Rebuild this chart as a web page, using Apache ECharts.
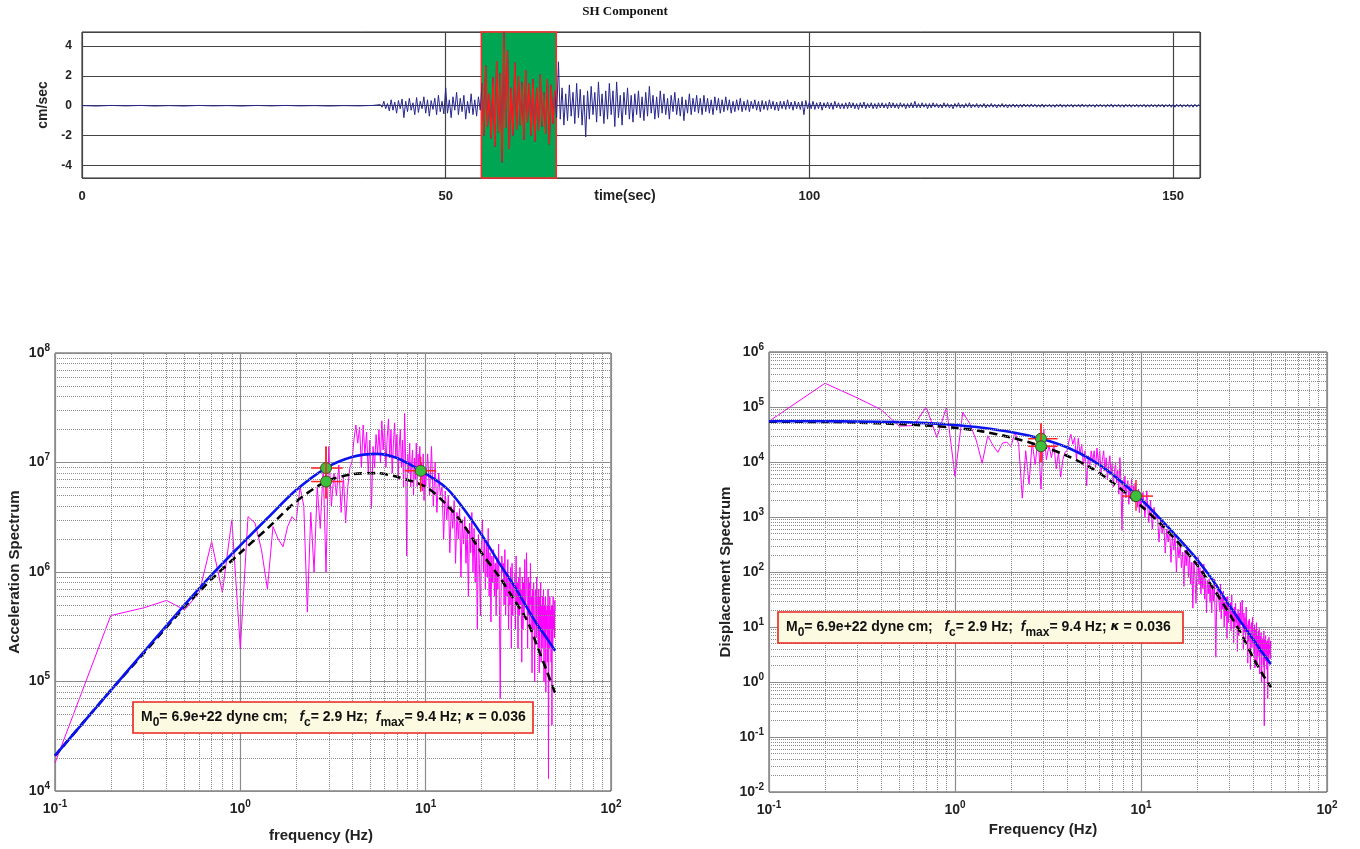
<!DOCTYPE html>
<html lang="en">
<head>
<meta charset="utf-8"/>
<title>SH Component - source spectra</title>
<script src="https://cdn.jsdelivr.net/npm/echarts@6/dist/echarts.min.js"></script>
<style>
  html, body { margin: 0; padding: 0; background: #fff; }
  #main { width: 1360px; height: 849px; }
</style>
</head>
<body>
<div id="main"></div>
<script>
// ---- seismogram (cm/sec) ----
// quiet pre-event part, sampled every 2 s from 0 s
const quietTime = [0, 2, 4, 6, 8, 10, 12, 14, 16, 18, 20, 22, 24, 26, 28, 30, 32, 34, 36, 38];
const quietVel = [0.01, -0.02, 0.02, -0.01, 0.02, -0.02, 0.01, -0.02, 0.02, -0.01,
                  0.01, -0.02, 0.02, -0.01, 0.02, -0.01, 0.01, -0.02, 0.01, -0.01];
// main part, sampled every 0.25 s from 40 s
const mainStart = 40;
const mainStep = 0.25;
const mainVel = [
  0.02, -0.03, 0.05, -0.04, 0.08, -0.1, 0.3, -0.2, 0.15, -0.35, 0.4, -0.3, 0.25, -0.5, 0.35, -0.2, 0.45, -0.8, 0.3, -0.4,
  0.5, -0.3, 0.2, -0.6, 0.55, -0.45, 0.3, -0.2, 0.6, -0.5, 0.4, -0.7, 0.35, -0.25, 0.5, -0.6, 0.7, -0.4, 0.3, -0.55,
  1.2, -0.5, 0.4, -0.8, 0.6, -0.3, 0.9, -0.6, 0.5, -0.4, 0.7, -0.9, 0.3, -0.5, 0.8, -0.6, 0.4, -0.7, 0.6, -0.3,
  1.5, -2.0, 2.7, -1.4, 0.8, -2.2, 1.9, -2.75, 3.0, -1.8, 2.2, -3.8, 4.9, -1.5, 3.7, -2.9, 1.2, -2.0, 2.9, -1.6,
  2.0, -1.3, 1.6, -2.3, 2.4, -1.1, 1.5, -2.0, 1.8, -2.4, 1.2, -1.7, 2.1, -1.4, 0.9, -1.9, 1.8, -2.6, 1.4, -1.2,
  1.0, -0.8, 2.95, -0.9, 1.2, -1.3, 0.8, -1.0, 1.4, -0.7, 0.9, -1.2, 1.5, -0.8, 1.1, -1.3, 0.7, -2.1, 1.0, -0.9,
  1.3, -0.6, 0.9, -1.1, 1.6, -0.7, 0.8, -1.2, 1.0, -0.9, 1.5, -0.6, 1.0, -1.4, 1.6, -0.8, 0.7, -1.3, 0.9, -0.6,
  1.2, -0.9, 0.7, -1.1, 0.8, -0.6, 1.0, -0.8, 0.6, -1.0, 0.9, -0.7, 1.3, -0.5, 0.7, -0.9, 0.6, -0.8, 1.0, -0.5,
  0.8, -0.6, 0.5, -0.9, 0.7, -0.4, 0.9, -0.6, 0.5, -0.7, 0.6, -1.0, 0.4, -0.5, 0.8, -0.6, 0.5, -0.4, 0.7, -0.5,
  0.5, -0.6, 0.7, -0.4, 0.5, -0.5, 0.4, -0.6, 0.6, -0.3, 0.5, -0.5, 0.4, -0.4, 0.6, -0.3, 0.4, -0.5, 0.3, -0.4,
  0.4, -0.3, 0.5, -0.4, 0.3, -0.3, 0.4, -0.4, 0.3, -0.2, 0.4, -0.3, 0.3, -0.4, 0.35, -0.25, 0.3, -0.3, 0.4, -0.2,
  0.3, -0.3, 0.25, -0.35, 0.3, -0.2, 0.3, -0.25, 0.4, -0.2, 0.25, -0.3, 0.3, -0.2, 0.25, -0.25, 0.3, -0.6, 0.35, -0.2,
  0.25, -0.2, 0.3, -0.25, 0.2, -0.2, 0.25, -0.3, 0.2, -0.15, 0.25, -0.2, 0.2, -0.25, 0.3, -0.15, 0.2, -0.2, 0.15, -0.2,
  0.2, -0.2, 0.25, -0.15, 0.2, -0.2, 0.15, -0.25, 0.2, -0.15, 0.25, -0.2, 0.15, -0.15, 0.2, -0.2, 0.15, -0.2, 0.2, -0.15,
  0.2, -0.15, 0.15, -0.2, 0.25, -0.15, 0.2, -0.15, 0.15, -0.2, 0.2, -0.1, 0.15, -0.2, 0.15, -0.15, 0.2, -0.15, 0.3, -0.15,
  0.15, -0.15, 0.2, -0.1, 0.15, -0.2, 0.15, -0.15, 0.2, -0.1, 0.15, -0.15, 0.1, -0.15, 0.2, -0.1, 0.15, -0.15, 0.1, -0.2,
  0.15, -0.1, 0.2, -0.15, 0.1, -0.15, 0.15, -0.1, 0.2, -0.15, 0.1, -0.1, 0.15, -0.15, 0.1, -0.1, 0.15, -0.15, 0.1, -0.1,
  0.15, -0.1, 0.1, -0.15, 0.1, -0.1, 0.15, -0.1, 0.1, -0.15, 0.1, -0.1, 0.12, -0.1, 0.1, -0.12, 0.1, -0.1, 0.12, -0.08,
  0.1, -0.1, 0.12, -0.08, 0.1, -0.1, 0.08, -0.1, 0.12, -0.1, 0.08, -0.08, 0.1, -0.1, 0.08, -0.1, 0.1, -0.08, 0.12, -0.1,
  0.08, -0.1, 0.1, -0.08, 0.1, -0.1, 0.08, -0.08, 0.1, -0.1, 0.12, -0.08, 0.08, -0.1, 0.1, -0.08, 0.08, -0.1, 0.1, -0.08,
  0.1, -0.08, 0.08, -0.1, 0.1, -0.08, 0.12, -0.1, 0.08, -0.08, 0.1, -0.1, 0.08, -0.1, 0.1, -0.08, 0.1, -0.1, 0.08, -0.08,
  0.1, -0.1, 0.08, -0.08, 0.1, -0.1, 0.08, -0.1, 0.1, -0.08, 0.08, -0.1, 0.1, -0.08, 0.1, -0.1, 0.08, -0.08, 0.1, -0.1,
  0.08, -0.1, 0.1, -0.08, 0.1, -0.1, 0.08, -0.08, 0.1, -0.1, 0.08, -0.1, 0.1, -0.08, 0.08, -0.05
];
const windowStart = 54.9;   // selected S window (s)
const windowEnd = 65.2;

// ---- spectra ----
// low band: 0.1 .. 10.0 Hz every 0.1 Hz ; high band: 10.25 .. 50 Hz every 0.25 Hz
const accLow = [
  1.8e4, 4.0e5, 4.7e5, 5.5e5, 4.5e5, 6.5e5, 1.9e6, 6.5e5, 3.0e6, 2.0e5,
  3.2e6, 2.8e6, 1.6e6, 7.0e5, 2.6e6, 2.0e6, 1.7e6, 2.6e6, 3.2e6, 2.9e6,
  6.0e6, 4.0e6, 4.3e5, 3.5e6, 1.0e6, 6.0e6, 2.5e6, 9.0e6, 1.0e6, 1.4e7,
  4.0e6, 8.0e6, 5.0e6, 9.5e6, 3.5e6, 7.5e6, 2.8e6, 6.0e6, 9.0e6, 1.0e7,
  1.6e7, 2.2e7, 1.5e7, 2.1e7, 9.0e6, 2.2e7, 1.2e7, 1.9e7, 8.0e6, 1.6e7,
  3.8e6, 1.4e7, 9.0e6, 1.8e7, 1.2e7, 2.0e7, 1.0e7, 2.4e7, 1.3e7, 2.2e7,
  9.0e6, 1.7e7, 2.5e7, 1.1e7, 2.0e7, 8.0e6, 1.5e7, 2.3e7, 1.1e7, 1.8e7,
  7.0e6, 1.4e7, 2.0e7, 9.0e6, 1.6e7, 6.0e6, 2.8e7, 1.0e7, 1.4e6, 1.2e7,
  8.0e6, 1.5e7, 6.0e6, 1.0e7, 1.3e7, 5.0e6, 1.1e7, 7.0e6, 1.5e7, 6.0e6,
  1.2e7, 8.5e6, 1.4e7, 7.0e6, 1.0e7, 5.5e6, 1.2e7, 4.5e6, 9.0e6, 6.0e6
];
const accHigh = [
  1.2e7, 5e6, 1.4e7, 4e6,   1.0e7, 3.5e6, 8e6, 5e6,   6e6, 2e6, 5.5e6, 3e6,   5e6, 1.5e6, 4e6, 2.5e6,
  4.5e6, 1.2e6, 3.5e6, 2e6, 3.8e6, 9e5, 3e6, 1.8e6, 3.2e6, 1.2e6, 2.5e6, 6e5, 2.8e6, 1.5e6, 3.5e6, 1e6,
  2.5e6, 8e5, 2e6, 3e5,     2.2e6, 1.2e6, 4e5, 1.8e6, 3e6, 1e6, 2e6, 7e5,   1.8e6, 9e5, 2.5e6, 6e5,
  1.5e6, 3.5e5, 1.4e6, 8e5, 1.6e6, 6e5, 1.2e6, 4e5, 1.3e6, 7e5, 1.8e6, 5e5, 7e4, 6e5, 1.4e6, 1e6,
  1.2e6, 5e5, 1.6e6, 4e5,   1.0e6, 6e5, 1.3e6, 3e5, 9e5, 5e5, 1.1e6, 2e5,   1.2e6, 4e5, 8e5, 6e5,
  1.0e6, 3e5, 1.4e6, 5e5,   8e5, 2e5, 9e5, 4e5,     1.1e6, 5e5, 7e5, 1.5e5, 9e5, 3e5, 8e5, 4e5,
  1.3e6, 5e5, 6e5, 1.5e6,   7e5, 2e5, 9e5, 4e5,     8e5, 3e5, 1.2e6, 5e5,   6e5, 1.2e5, 7e5, 3e5,
  8e5, 4e5, 1e5, 6e5,       7e5, 2.5e5, 9e5, 3e5,   6e5, 2e5, 7e5, 1.2e5,   6e5, 3e5, 8e5, 1.5e5,
  5e5, 2e5, 6e5, 2.5e5,     7e5, 1e5, 5e5, 2.5e5,   6e5, 8e4, 4.5e5, 3e5,   5e5, 1.5e5, 7e5, 1.3e4,
  5e5, 2e5, 6e5, 3e5,       4.5e5, 1.5e5, 5e5, 4e4, 5e5, 2e5, 6e5, 3e5,     4.5e5, 2.5e5, 5.5e5, 4.5e5
];
const dispLow = [
  5.5e4, 2.7e5, 1.45e5, 9.0e4, 4.5e4, 4.6e4, 1.0e5, 2.8e4, 1.0e5, 5.5e3,
  8.0e4, 5.0e4, 2.5e4, 9.5e3, 3.0e4, 2.0e4, 1.5e4, 2.2e4, 2.3e4, 1.9e4,
  3.5e4, 2.1e4, 2.2e3, 1.6e4, 4.0e3, 2.3e4, 8.8e3, 3.0e4, 3.2e3, 4.0e4,
  1.1e4, 2.0e4, 1.2e4, 2.1e4, 7.5e3, 1.5e4, 5.3e3, 1.1e4, 1.5e4, 1.6e4,
  2.4e4, 3.2e4, 2.1e4, 2.8e4, 1.1e4, 2.7e4, 1.4e4, 2.1e4, 8.5e3, 1.6e4,
  3.7e3, 1.3e4, 8.2e3, 1.6e4, 1.0e4, 1.6e4, 7.8e3, 1.8e4, 9.5e3, 1.6e4,
  6.1e3, 1.1e4, 1.6e4, 6.8e3, 1.2e4, 4.7e3, 8.5e3, 1.3e4, 5.9e3, 9.3e3,
  3.5e3, 6.8e3, 9.5e3, 4.2e3, 7.2e3, 2.6e3, 1.2e4, 4.2e3, 5.7e2, 4.7e3,
  3.1e3, 5.6e3, 2.2e3, 3.6e3, 4.6e3, 1.7e3, 3.7e3, 2.3e3, 4.8e3, 1.9e3,
  3.7e3, 2.5e3, 4.1e3, 2.0e3, 2.8e3, 1.5e3, 3.2e3, 1.2e3, 2.3e3, 1.5e3
];
const dispHigh = [
  2.8e3, 1.0e3, 3.0e3, 8e2,  2.0e3, 6e2, 1.5e3, 9e2,  1.1e3, 3.5e2, 9e2, 5e2,  8e2, 2.2e2, 6e2, 3.5e2,
  6e2, 1.5e2, 4.5e2, 2.5e2,  4.5e2, 1e2, 3.3e2, 1.8e2, 3.2e2, 1.2e2, 2.3e2, 55, 2.5e2, 1.3e2, 3e2, 80,
  1.9e2, 60, 1.5e2, 22,      1.5e2, 80, 27, 1.2e2,    1.9e2, 60, 1.2e2, 40,   1.0e2, 50, 1.4e2, 32,
  75, 18, 70, 40,            75, 28, 55, 18,          55, 30, 75, 20,         2.8, 24, 55, 45,
  45, 19, 60, 14,            35, 21, 45, 10,          29, 16, 35, 6.2,        36, 12, 24, 17,
  28, 8.5, 38, 13,           21, 5.2, 23, 10,         27, 12, 17, 3.6,        21, 7, 18, 9,
  28, 11, 13, 31,            14, 4, 18, 8,            15, 5.8, 23, 9.5,       11, 2.2, 13, 5.5,
  14, 7, 1.7, 10,            12, 4.2, 15, 5,          9.5, 3.2, 11, 1.8,      9, 4.5, 12, 2.2,
  7, 2.8, 8.5, 3.5,          9.5, 1.4, 6.8, 3.3,      8, 1.0, 6, 3.8,         6.2, 1.9, 8.5, 0.16,
  6, 2.4, 7, 3.5,            5.2, 1.7, 5.7, 0.5,      5.5, 2.2, 6.5, 3.2,     4.7, 2.6, 5.6, 4.5
];

// fitted source models read at these frequencies (Hz)
const modelFreq = [0.1, 0.2, 0.3, 0.5, 0.7, 1, 1.4, 2, 2.9, 4, 5.4, 7, 10, 13, 16, 20, 25, 30, 35, 40, 45, 50];
const accBlue = [2.1e4, 8.3e4, 1.85e5, 5.0e5, 9.4e5, 1.75e6, 3.1e6, 5.6e6, 8.9e6, 1.12e7, 1.2e7, 1.1e7,
                 7.9e6, 5.8e6, 3.8e6, 2.2e6, 1.2e6, 7.5e5, 4.8e5, 3.3e5, 2.5e5, 1.9e5];
const accDash = [2.1e4, 8.3e4, 1.8e5, 4.8e5, 8.6e5, 1.5e6, 2.5e6, 4.4e6, 6.7e6, 7.8e6, 8.0e6, 7.4e6,
                 6.0e6, 4.1e6, 2.7e6, 1.5e6, 9.0e5, 5.6e5, 3.7e5, 2.1e5, 1.25e5, 7.8e4];
const dispBlue = [5.5e4, 5.5e4, 5.45e4, 5.3e4, 5.1e4, 4.7e4, 4.2e4, 3.5e4, 2.65e4, 1.85e4, 1.1e4, 6.0e3,
                  2.1e3, 8.5e2, 4.0e2, 1.7e2, 62, 24, 11.4, 6.0, 3.4, 2.1];
const dispDash = [5.4e4, 5.35e4, 5.2e4, 4.9e4, 4.6e4, 4.2e4, 3.6e4, 2.8e4, 1.95e4, 1.3e4, 7.8e3, 4.3e3,
                  1.6e3, 7.0e2, 3.3e2, 1.35e2, 45, 17, 7.0, 2.8, 1.4, 0.8];

// picked points with error bars: [f, amp, fLow, fHigh, ampLow, ampHigh]
const accPicks = [
  [2.9, 8.9e6, 2.41, 3.57, 4.7e6, 1.4e7],
  [2.9, 6.7e6, 2.41, 3.57, 4.7e6, 1.4e7],
  [9.4, 8.4e6, 7.7, 11.4, 5.4e6, 1.13e7]
];
const dispPicks = [
  [2.9, 2.65e4, 2.47, 3.56, 1.0e4, 5.0e4],
  [2.9, 1.93e4, 2.47, 3.56, 1.0e4, 5.0e4],
  [9.4, 2.4e3, 7.9, 11.6, 1.3e3, 4.7e3]
];

// ---- build ----
const SANS = 'Liberation Sans, Arial, sans-serif';
const lowFreq = accLow.map((v, i) => +(0.1 * (i + 1)).toFixed(1));
const highFreq = accHigh.map((v, i) => 10 + 0.25 * (i + 1));
const spectrum = (low, high) => low.map((v, i) => [lowFreq[i], v]).concat(high.map((v, i) => [highFreq[i], v]));
const model = vals => modelFreq.map((f, i) => [f, vals[i]]);

const seis = quietTime.map((t, i) => [t, quietVel[i]])
  .concat(mainVel.map((v, i) => [mainStart + i * mainStep, v]));
const seisWindow = seis.filter(p => p[0] >= windowStart && p[0] <= windowEnd);

// dotted minor grid at 2..9 x each decade
function minorLines(lo, hi, key) {
  const out = [];
  for (let e = lo; e < hi; e++) {
    for (let m = 2; m <= 9; m++) {
      const o = {}; o[key] = +(m * Math.pow(10, e)).toPrecision(3); out.push(o);
    }
  }
  return out;
}

function powLabel(v) {
  const e = Math.round(Math.log10(v));
  return '{b|10}{s|' + e + '}';
}
const powRich = {
  b: { fontSize: 14, fontWeight: 'bold', fontFamily: SANS, color: '#222', lineHeight: 20 },
  s: { fontSize: 10, fontWeight: 'bold', fontFamily: SANS, color: '#222', verticalAlign: 'top' }
};

function logX(idx, name, gap, shift) {
  return {
    type: 'log', gridIndex: idx, min: 0.1, max: 100, logBase: 10, splitNumber: 3,
    name: name, nameLocation: 'middle', nameGap: gap, nameMoveOverlap: false,
    nameTextStyle: { fontSize: 15, fontWeight: 'bold', fontFamily: SANS, color: '#222', padding: [0, shift, 0, 0] },
    axisLine: { show: false }, axisTick: { show: false },
    axisLabel: { formatter: powLabel, rich: powRich, margin: 8, interval: 0, showMinLabel: true, showMaxLabel: true },
    splitLine: { show: true, lineStyle: { color: '#8c8c8c', width: 1.2 } }
  };
}
function logY(idx, name, gap, lo, hi) {
  return {
    type: 'log', gridIndex: idx, min: Math.pow(10, lo), max: Math.pow(10, hi), logBase: 10, splitNumber: hi - lo,
    name: name, nameLocation: 'middle', nameGap: gap, nameMoveOverlap: false,
    nameTextStyle: { fontSize: 15, fontWeight: 'bold', fontFamily: SANS, color: '#222' },
    axisLine: { show: false }, axisTick: { show: false },
    axisLabel: { formatter: powLabel, rich: powRich, margin: 5, interval: 0, showMinLabel: true, showMaxLabel: true },
    splitLine: { show: true, lineStyle: { color: '#8c8c8c', width: 1.2 } }
  };
}

function renderPick(params, api) {
  const c = api.coord([api.value(0), api.value(1)]);
  const l = api.coord([api.value(2), api.value(1)]);
  const r = api.coord([api.value(3), api.value(1)]);
  const b = api.coord([api.value(0), api.value(4)]);
  const t = api.coord([api.value(0), api.value(5)]);
  const red = { stroke: '#ff2424', lineWidth: 1.5 };
  return {
    type: 'group',
    children: [
      { type: 'line', shape: { x1: l[0], y1: l[1], x2: r[0], y2: r[1] }, style: red },
      { type: 'line', shape: { x1: b[0], y1: b[1], x2: t[0], y2: t[1] }, style: red },
      { type: 'circle', shape: { cx: c[0], cy: c[1], r: 5.5 }, style: { fill: '#3cc03c', stroke: '#4a4a20', lineWidth: 1 } }
    ]
  };
}

function gridSeries(xi, yi, xr, yr) {
  return {
    type: 'line', xAxisIndex: xi, yAxisIndex: yi, data: [], silent: true, z: 1,
    markLine: {
      silent: true, symbol: 'none', animation: false, label: { show: false },
      lineStyle: { type: 'dotted', color: '#8a8a8a', width: 1 },
      emphasis: { disabled: true },
      data: minorLines(xr[0], xr[1], 'xAxis').concat(minorLines(yr[0], yr[1], 'yAxis'))
    }
  };
}

function spectrumSeries(xi, yi, spec, blue, dash, picks) {
  return [
    gridSeries(xi, yi, [-1, 2], yi === 1 ? [4, 8] : [-2, 6]),
    { type: 'line', xAxisIndex: xi, yAxisIndex: yi, data: spec, symbol: 'none', z: 2,
      lineStyle: { color: '#ff00ff', width: 1 } },
    { type: 'line', xAxisIndex: xi, yAxisIndex: yi, data: dash, symbol: 'none', smooth: 0.3, z: 3,
      lineStyle: { color: '#000', width: 2.6, type: [8, 5] } },
    { type: 'line', xAxisIndex: xi, yAxisIndex: yi, data: blue, symbol: 'none', smooth: 0.3, z: 4,
      lineStyle: { color: '#0a14f0', width: 2.6 } },
    { type: 'custom', xAxisIndex: xi, yAxisIndex: yi, data: picks, renderItem: renderPick, z: 5 }
  ];
}

const boxText = '{n|M}{sub|0}{n|= 6.9e+22 dyne cm;   }{i|f}{sub|c}{n|= 2.9 Hz;  }{i|f}{sub|max}{n|= 9.4 Hz; }{k|κ}{n| = 0.036}';
const boxRich = {
  n: { fontSize: 14, fontWeight: 'bold', fontFamily: SANS, fill: '#111', lineHeight: 24 },
  i: { fontSize: 14, fontWeight: 'bold', fontStyle: 'italic', fontFamily: SANS, fill: '#111', lineHeight: 24 },
  k: { fontSize: 13, fontWeight: 'bold', fontStyle: 'italic', fontFamily: 'DejaVu Sans, sans-serif', fill: '#111', lineHeight: 24 },
  sub: { fontSize: 12, fontWeight: 'bold', fontFamily: SANS, fill: '#111', verticalAlign: 'bottom' }
};
function paramBox(x, y, w) {
  return {
    type: 'group', x: x, y: y,
    children: [
      { type: 'rect', z: 100, shape: { x: 0, y: 0, width: w, height: 31 },
        style: { fill: '#fcfbe2', stroke: '#e8251e', lineWidth: 1.6 } },
      { type: 'text', z: 101, x: 8, y: 15, style: { text: boxText, rich: boxRich, verticalAlign: 'middle' } }
    ]
  };
}

const chart = echarts.init(document.getElementById('main'));
chart.setOption({
  animation: false,
  backgroundColor: '#fff',
  grid: [
    { left: 82, top: 32, width: 1118, height: 146, show: true, borderColor: '#222', borderWidth: 1, outerBoundsMode: 'none' },
    { left: 55, top: 353, width: 556, height: 438, show: true, borderColor: '#444', borderWidth: 1, outerBoundsMode: 'none' },
    { left: 769, top: 352, width: 558, height: 440, show: true, borderColor: '#444', borderWidth: 1, outerBoundsMode: 'none' }
  ],
  xAxis: [
    { type: 'value', gridIndex: 0, min: 0, max: 153.7, interval: 50,
      name: 'time(sec)', nameLocation: 'middle', nameGap: 11, nameMoveOverlap: false,
      nameTextStyle: { fontSize: 14, fontWeight: 'bold', fontFamily: SANS, color: '#222', padding: [0, 32, 0, 0] },
      axisLine: { show: false }, axisTick: { show: false },
      axisLabel: { fontSize: 13, fontWeight: 'bold', fontFamily: SANS, color: '#222', margin: 12, showMaxLabel: false },
      splitLine: { show: true, lineStyle: { color: '#444', width: 1.2 } } },
    logX(1, 'frequency (Hz)', 37, 24),
    logX(2, 'Frequency (Hz)', 30, 10)
  ],
  yAxis: [
    { type: 'value', gridIndex: 0, min: -4.85, max: 4.95, splitNumber: 5,
      name: 'cm/sec', nameLocation: 'middle', nameGap: 32, nameMoveOverlap: false,
      nameTextStyle: { fontSize: 14, fontWeight: 'bold', fontFamily: SANS, color: '#222' },
      axisLine: { show: false }, axisTick: { show: false },
      axisLabel: { fontSize: 12, fontWeight: 'bold', fontFamily: SANS, color: '#222', margin: 10, showMinLabel: false, showMaxLabel: false },
      splitLine: { show: true, lineStyle: { color: '#444', width: 1.2 } } },
    logY(1, 'Acceleration Spectrum', 33, 4, 8),
    logY(2, 'Displacement Spectrum', 36, -2, 6)
  ],
  graphic: [
    { type: 'text', x: 625, y: 12, z: 100,
      style: { text: 'SH Component', fontSize: 13, fontWeight: 'bold', fontFamily: 'Liberation Serif, Times New Roman, serif',
               fill: '#111', align: 'center', verticalAlign: 'middle' } },
    paramBox(133, 702, 400),
    paramBox(778, 612, 405)
  ],
  series: [
    { type: 'line', xAxisIndex: 0, yAxisIndex: 0, data: [], silent: true, z: 1,
      markArea: { silent: true,
        itemStyle: { color: '#00a651', opacity: 1, borderColor: '#ff2a2a', borderWidth: 1.6 },
        data: [[{ xAxis: windowStart }, { xAxis: windowEnd }]] } },
    { type: 'line', xAxisIndex: 0, yAxisIndex: 0, data: seis, symbol: 'none', z: 2,
      lineStyle: { color: '#27278f', width: 1 } },
    { type: 'line', xAxisIndex: 0, yAxisIndex: 0, data: seisWindow, symbol: 'none', z: 3,
      lineStyle: { color: '#ff1a1a', width: 1.3 } }
  ]
    .concat(spectrumSeries(1, 1, spectrum(accLow, accHigh), model(accBlue), model(accDash), accPicks))
    .concat(spectrumSeries(2, 2, spectrum(dispLow, dispHigh), model(dispBlue), model(dispDash), dispPicks))
});
</script>
</body>
</html>
